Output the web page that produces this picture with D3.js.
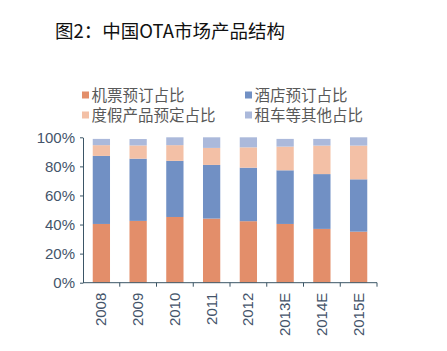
<!DOCTYPE html>
<html><head><meta charset="utf-8">
<script src="https://cdn.jsdelivr.net/npm/d3@7/dist/d3.min.js"></script>
<style>body{margin:0;background:#fff}svg{display:block}</style>
</head><body>
<svg id="c" width="447" height="351"></svg>
<script>
const categories = ["2008","2009","2010","2011","2012","2013E","2014E","2015E"];
const seriesNames = ["机票预订占比","酒店预订占比","度假产品预定占比","租车等其他占比"];
const flight   = [40.4, 42.5, 45.2, 44.1, 42.3, 40.4, 37.0, 35.1];
const hotel    = [46.8, 42.8, 38.6, 36.9, 36.8, 36.9, 37.7, 36.0];
const vacation = [7.4, 9.1, 10.8, 11.7, 14.0, 16.3, 19.6, 23.2];
const other    = [4.3, 4.4, 5.4, 7.3, 6.9, 5.3, 4.6, 5.7];
const yTicks = [0, 20, 40, 60, 80, 100];
const colors = ["#E38E6A", "#7190C4", "#F3C0A6", "#ABB9DB"];

const svg = d3.select("#c");
const L = 83, R = 377, T = 137.3, B = 282.7;
const x = d3.scaleBand().domain(categories).range([L, R]).paddingInner(0.53).paddingOuter(0.265);
const y = d3.scaleLinear().domain([0, 100]).range([B, T]);
const axisColor = "#3B5566";

svg.append("text").attr("x", 55).attr("y", 38)
  .attr("font-family", "'Noto Sans CJK SC', sans-serif").attr("font-size", 18.5)
  .attr("fill", "#111").text("图2：中国OTA市场产品结构");

const rows = categories.map((c, i) => ({cat: c, s0: flight[i], s1: hotel[i], s2: vacation[i], s3: other[i]}));
const stack = d3.stack().keys(["s0","s1","s2","s3"])(rows);
svg.append("g").selectAll("g").data(stack).join("g")
  .attr("fill", (d, i) => colors[i])
  .selectAll("rect").data(d => d).join("rect")
  .attr("x", d => x(d.data.cat)).attr("width", x.bandwidth())
  .attr("y", d => y(d[1])).attr("height", d => y(d[0]) - y(d[1]));

// y axis
const ya = svg.append("g").attr("transform", `translate(${L},0)`)
  .call(d3.axisLeft(y).tickValues(yTicks).tickFormat(d => d + "%").tickSize(3).tickSizeOuter(0));
ya.select(".domain").attr("stroke", axisColor);
ya.selectAll(".tick line").attr("stroke", axisColor);
ya.selectAll("text").attr("font-family", "'Liberation Sans', Arial, sans-serif")
  .attr("font-size", 15).attr("fill", "#44546A").attr("dx", -2);

// x axis
const xa = svg.append("g").attr("transform", `translate(0,${B})`);
xa.append("line").attr("x1", L).attr("x2", R).attr("stroke", axisColor);
const step = x.step();
const bounds = d3.range(1, categories.length + 1).map(i => L + i * (R - L) / categories.length);
xa.selectAll("line.t").data(bounds).join("line").attr("class", "t")
  .attr("x1", d => d).attr("x2", d => d).attr("y1", 0).attr("y2", 4).attr("stroke", axisColor);
xa.selectAll("text").data(categories).join("text")
  .attr("transform", d => `translate(${x(d) + x.bandwidth() / 2 + 5},10) rotate(-90)`)
  .attr("text-anchor", "end")
  .attr("font-family", "'Liberation Sans', Arial, sans-serif").attr("font-size", 15)
  .attr("fill", "#44546A").text(d => d);

// legend
const lg = svg.append("g");
const lpos = [[82, 95], [245, 95], [82, 115], [245, 115]];
seriesNames.forEach((n, i) => {
  const g = lg.append("g").attr("transform", `translate(${lpos[i][0]},${lpos[i][1]})`);
  g.append("rect").attr("x", 0).attr("y", -3.5).attr("width", 7).attr("height", 7).attr("fill", colors[i]);
  g.append("text").attr("x", 9.5).attr("y", 0).attr("dy", "0.36em")
    .attr("font-family", "'Noto Sans CJK SC', sans-serif").attr("font-size", 15.5)
    .attr("fill", "#595959").text(n);
});
</script>
</body></html>
